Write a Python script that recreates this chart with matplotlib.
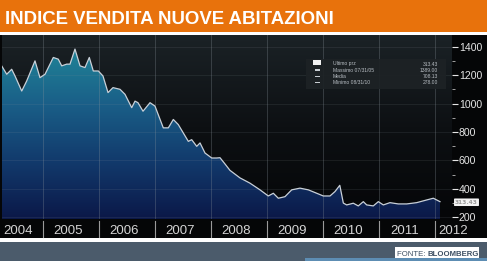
import numpy as np
import matplotlib
matplotlib.use("Agg")
import matplotlib.pyplot as plt
from matplotlib import font_manager
from matplotlib.colors import LinearSegmentedColormap
from matplotlib.patches import Rectangle, FancyBboxPatch
from matplotlib.transforms import blended_transform_factory

# US new home sales (thousands)
dates = [2004.262, 2004.352, 2004.441, 2004.500, 2004.620, 2004.709, 2004.857,
         2004.946, 2005.036, 2005.184, 2005.273, 2005.334, 2005.423, 2005.482,
         2005.571, 2005.661, 2005.750, 2005.827, 2005.898, 2005.988, 2006.071,
         2006.161, 2006.250, 2006.375, 2006.464, 2006.584, 2006.643, 2006.696,
         2006.786, 2006.911, 2007.000, 2007.148, 2007.238, 2007.327, 2007.416,
         2007.595, 2007.655, 2007.745, 2007.804, 2007.893, 2008.013, 2008.102,
         2008.161, 2008.250, 2008.339, 2008.518, 2008.696, 2008.875, 2009.023,
         2009.113, 2009.202, 2009.321, 2009.441, 2009.589, 2009.738, 2009.888,
         2010.005, 2010.125, 2010.214, 2010.300, 2010.363, 2010.423, 2010.541,
         2010.630, 2010.720, 2010.780, 2010.898, 2010.988, 2011.077, 2011.196,
         2011.345, 2011.495, 2011.673, 2011.852, 2011.970, 2012.089]
sales = [1265, 1206, 1241, 1194, 1088, 1159, 1300,
         1182, 1206, 1324, 1312, 1265, 1277, 1277,
         1383, 1265, 1253, 1324, 1229, 1229, 1194,
         1077, 1112, 1100, 1065, 971, 1017, 1006,
         946, 1006, 982, 829, 829, 888, 852,
         734, 746, 699, 723, 652, 617, 617,
         619, 575, 530, 477, 440, 393, 350,
         369, 334, 345, 393, 405, 393, 369,
         350, 350, 381, 425, 300, 287, 299,
         280, 310, 287, 280, 310, 287, 303,
         294, 294, 303, 322, 334, 310]

years = [2004, 2005, 2006, 2007, 2008, 2009, 2010, 2011, 2012]
yticks = [200, 400, 600, 800, 1000, 1200, 1400]

title = "INDICE VENDITA NUOVE ABITAZIONI"
legend_rows = [("Ultimo prz", "313.43"),
               ("Massimo 07/31/05", "1389.00"),
               ("Media", "708.13"),
               ("Minimo 08/31/10", "278.00")]

W, H = 487, 261

def fx(x):
    return x / W

def fy(y):
    return 1 - y / H

names = {f.name for f in font_manager.fontManager.ttflist}
if "Liberation Sans Narrow" in names:
    narrow = "Liberation Sans Narrow"
    title_size = 16
    src_size = 7.2
else:
    narrow = "Liberation Sans"
    title_size = 13.4
    src_size = 5.6

fig = plt.figure(figsize=(W / 100, H / 100), dpi=100, facecolor="white")

def rect(x0, y0, x1, y1, color, z=-1, **kw):
    fig.patches.append(Rectangle((fx(x0), fy(y1)), fx(x1 - x0), fy(y0) - fy(y1),
                                 transform=fig.transFigure, facecolor=color,
                                 edgecolor="none", zorder=z, **kw))

# header, chart panel, footer
rect(0, 0, W, 31.5, "#e8720c")
rect(0, 34.5, W, 238, "#050607")
rect(0, 241.5, W, H, "#4b5b6b")
rect(305, 258, W, H, "#5d8db3")
fig.text(fx(5), fy(24), title, color="white", fontsize=title_size,
         fontweight="bold", family=narrow, ha="left", va="baseline")

# main plot
ax = fig.add_axes([fx(2), fy(219), fx(450), fy(35) - fy(219)])
ax.set_facecolor("#0a0c0e")
x0, x1 = 2005 + (2 - 43) / 56, 2005 + (452 - 43) / 56
y0, y1 = 188, 1482
ax.set_xlim(x0, x1)
ax.set_ylim(y0, y1)
for s in ax.spines.values():
    s.set_visible(False)

# dark background, a little lighter at the top
bg = LinearSegmentedColormap.from_list("bg", ["#050608", "#0d1013", "#1b2226"])
ax.imshow(np.linspace(0, 1, 128).reshape(-1, 1), extent=[x0, x1, y0, y1],
          origin="lower", aspect="auto", cmap=bg, zorder=1)

# gradient area under the line
cmap = LinearSegmentedColormap.from_list("bb", ["#0b1848", "#123a6c", "#1a5f88", "#208598"])
grad = np.linspace(0, 1, 256).reshape(-1, 1)
img = ax.imshow(grad, extent=[x0, x1, y0, 1400], origin="lower", aspect="auto",
                cmap=cmap, zorder=2)
poly = ax.fill_between(dates, sales, y0, facecolor="none", edgecolor="none")
img.set_clip_path(poly.get_paths()[0], transform=ax.transData)

for yr in years[1:]:
    ax.axvline(yr, color="#8a949c", lw=0.7, alpha=0.3, zorder=3)
for v in yticks:
    ax.axhline(v, color="#8a949c", lw=0.6, alpha=0.15, zorder=3)

ax.plot(dates, sales, color="#c9d0d8", lw=0.9, zorder=4)

ax.yaxis.tick_right()
ax.set_yticks(yticks)
ax.set_yticks([300, 500, 700, 900, 1100, 1300], minor=True)
ax.tick_params(axis="y", which="major", length=4, width=0.8, color="#e6e6e6",
               labelcolor="#e6e6e6", labelsize=7.6, pad=1)
ax.tick_params(axis="y", which="minor", length=2, width=0.6, color="#bbbbbb")
for lab in ax.get_yticklabels():
    lab.set_family("Liberation Sans")
ax.set_xticks([])

# year labels and separators under the plot
tb = blended_transform_factory(ax.transData, fig.transFigure)
for yr in years:
    if yr == 2004:
        xp = 2004.55
    elif yr == 2012:
        xp = 2012.33
    else:
        xp = yr + 0.45
    ax.text(xp, fy(234), str(yr), transform=tb, ha="center", va="baseline",
            color="#d4d4d4", fontsize=9.5, family="Liberation Sans", clip_on=False)
    if yr > 2004:
        ax.plot([yr, yr], [fy(221), fy(237)], transform=tb, color="#9a9a9a",
                lw=0.8, clip_on=False)

# legend box
rect(306, 59, 446, 89, "#1d2225", z=5, alpha=0.92)
for i, (lab, val) in enumerate(legend_rows):
    yy = 64 + i * 6.3
    fig.text(fx(333), fy(yy), lab, color="#b8bec4", fontsize=3.6, va="center",
             family="Liberation Sans", zorder=6)
    fig.text(fx(438), fy(yy), val, color="#b8bec4", fontsize=3.6, va="center",
             ha="right", family="Liberation Sans", zorder=6)
rect(313, 59.5, 321, 65, "#f2f2f2", z=6)
for i in range(1, 4):
    rect(315, 63 + i * 6.3, 320, 64.5 + i * 6.3, "#c8cdd2", z=6)

# last price marker on the right axis
fig.patches.append(FancyBboxPatch((fx(455), fy(205.5)), fx(23), fy(199) - fy(205.5),
                                  boxstyle="round,pad=0.002", transform=fig.transFigure,
                                  facecolor="#f4f4f4", edgecolor="none", zorder=5))
fig.text(fx(466.5), fy(202.3), "313.43", color="#9a9a9a", fontsize=4.2,
         ha="center", va="center", fontweight="bold", zorder=6)

# source box
rect(395, 246.5, 479, 257.5, "white", z=2)
t1 = fig.text(fx(397), fy(255.5), "FONTE: ", color="#3c4e62", fontsize=src_size,
              family=narrow, ha="left", va="baseline", zorder=3)
fig.canvas.draw()
bb = t1.get_window_extent()
fig.text(bb.x1 / W, fy(255.5), "BLOOMBERG", color="#3c4e62", fontsize=src_size,
         family=narrow, fontweight="bold", ha="left", va="baseline", zorder=3)

fig.savefig("out.png", dpi=100, facecolor="white")
